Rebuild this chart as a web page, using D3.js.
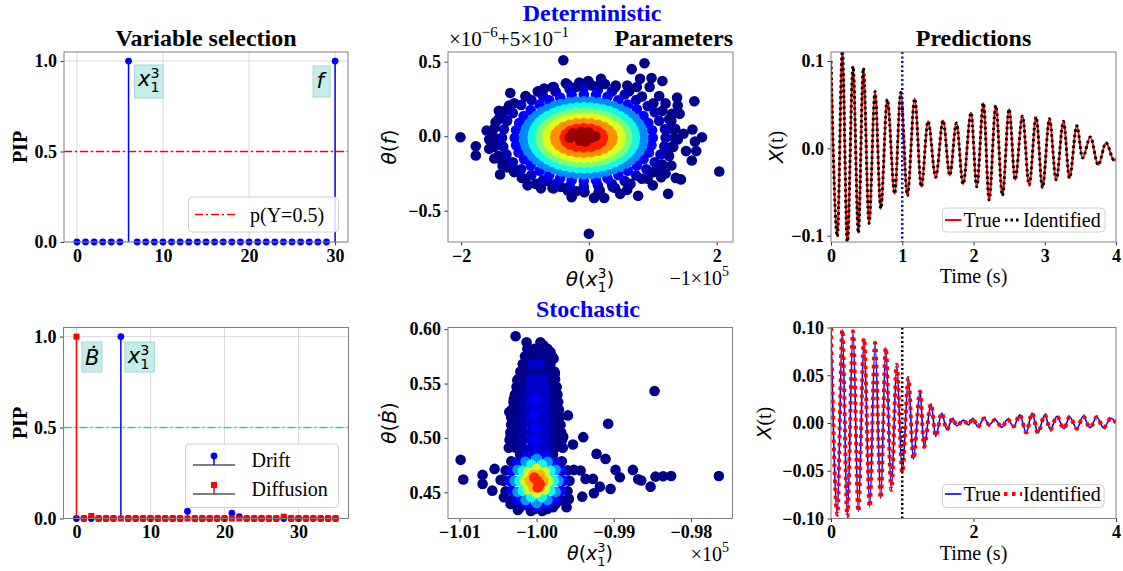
<!DOCTYPE html>
<html>
  <head>
    <meta charset="utf-8">
    <title>Variable selection, parameters and predictions</title>
    <script src="https://cdnjs.cloudflare.com/ajax/libs/d3/7.8.5/d3.min.js"></script>
    <style>
      body { margin: 0; background: #fff; }
    </style>
  </head>
  <body>
    <svg id="chart" width="1123" height="571"></svg>
    <script>
      // ---------- data ----------
      // PIP of each library term (index = term number)
      const detTermPIP = [0,0,0,0,0,0,1,0,0,0, 0,0,0,0,0,0,0,0,0,0, 0,0,0,0,0,0,0,0,0,0, 1];
      const driftPIP = [0,0,0,0,0,0,1,0,0,0, 0,0,0,0,0,0.04,0,0,0,0, 0,0.03,0.01,0,0,0,0,0,0,0, 0,0,0,0,0,0];
      const diffusionPIP = [1,0,0.014,0,0,0,0,0,0,0, 0,0,0,0,0,0,0,0,0,0, 0,0,0,0,0,0,0,0,0.01,0, 0,0,0,0,0,0];
      const pipThreshold = 0.5;

      // posterior samples, deterministic case: [theta(x1^3), theta(f)], grouped by density band
      const detBand0 = [[-0.40,0.51],[0.87,0.49],[0.67,0.45],[0.80,0.385],[0.98,0.39],[1.15,0.37],[0.95,0.33],[0.19,0.385],
        [-0.01,0.37],[-0.15,0.36],[-0.36,0.355],[0.42,0.34],[-0.70,0.32],[-0.80,0.30],[-0.99,0.27],[-1.23,0.29],
        [-1.41,0.17],[-1.25,0.205],[-1.46,0.094],[-1.60,0.038],[-1.56,-0.022],[-2.01,-0.007],[-1.77,-0.067],[-1.77,-0.13],
        [-1.56,-0.085],[-1.48,-0.15],[-1.26,-0.175],[-1.27,-0.21],[-1.39,-0.257],[-1.12,-0.23],[-0.96,-0.33],[-0.83,-0.32],
        [-0.65,-0.30],[-0.44,-0.34],[-0.27,-0.41],[-0.07,-0.376],[0.08,-0.414],[0.24,-0.414],[0.37,-0.34],[0.49,-0.387],
        [0.65,-0.32],[0.77,-0.40],[0.92,-0.286],[1.13,-0.275],[1.24,-0.387],[1.44,-0.29],[1.36,-0.28],[2.04,-0.237],
        [0.0,-0.655],[1.62,0.045],[1.77,-0.007],[1.66,-0.036],[1.68,-0.10],[1.61,-0.163],[1.52,-0.10],[1.48,0.016],
        [1.39,-0.022],[1.39,0.206],[1.42,0.15],[1.65,0.235],[1.38,0.26],[1.29,0.105],[1.26,0.05],[1.23,-0.12],
        [1.13,-0.22],[1.29,-0.197],[-0.55,0.33],[0.25,0.35],[0.6,0.34],[0.75,0.33],[-0.2,0.33],[0.05,0.34],
        [-0.55,-0.35],[-0.2,-0.37],[0.15,-0.38],[0.6,-0.36],[1.0,-0.33],[-0.75,-0.35],[-1.05,-0.28],[-1.45,-0.05],
        [-1.5,0.0],[-1.35,0.12],[-1.4,-0.15],[-1.35,-0.2],[1.35,0.05],[1.3,-0.07],[1.3,0.15],[1.2,0.22],[1.1,0.27],[1.2,-0.25],
        [1.34,-0.01],[1.32,0.053],[1.255,0.113],[1.15,0.17],[1.01,0.221],[0.83,0.266],[0.63,0.302],[0.41,0.328],
        [0.17,0.345],[-0.08,0.35],[-0.33,0.345],[-0.57,0.328],[-0.79,0.302],[-0.99,0.266],[-1.17,0.221],[-1.31,0.17],
        [-1.415,0.113],[-1.48,0.053],[-1.50,-0.01],[-1.48,-0.073],[-1.415,-0.133],[-1.31,-0.19],[-1.17,-0.241],[-0.99,-0.286],
        [-0.79,-0.322],[-0.57,-0.348],[-0.33,-0.365],[-0.08,-0.37],[0.17,-0.365],[0.41,-0.348],[0.63,-0.322],[0.83,-0.286],
        [1.01,-0.241],[1.15,-0.19],[1.255,-0.133],[1.32,-0.073]];
      const detBand1 = [[1.20,-0.01],[1.19,0.047],[1.10,0.103],[1.03,0.16],[0.92,0.202],[0.74,0.243],[0.56,0.28],[0.36,0.300],
        [0.14,0.31],[-0.08,0.325],[-0.30,0.315],[-0.52,0.300],[-0.72,0.27],[-0.90,0.243],[-1.06,0.21],[-1.19,0.155],
        [-1.28,0.103],[-1.33,0.047],[-1.36,-0.01],[-1.34,-0.07],[-1.29,-0.123],[-1.19,-0.175],[-1.06,-0.222],[-0.90,-0.26],
        [-0.72,-0.296],[-0.52,-0.32],[-0.30,-0.335],[-0.08,-0.34],[0.14,-0.33],[0.36,-0.320],[0.56,-0.30],[0.74,-0.263],
        [0.90,-0.222],[1.03,-0.175],[1.12,-0.123],[1.18,-0.067]];
      const detBand2 = [[1.00,-0.01],[0.99,0.040],[0.93,0.089],[0.855,0.135],[0.75,0.18],[0.61,0.212],[0.46,0.241],[0.29,0.265],
        [0.11,0.276],[-0.08,0.28],[-0.27,0.276],[-0.45,0.26],[-0.62,0.241],[-0.77,0.212],[-0.91,0.176],[-1.02,0.135],
        [-1.09,0.089],[-1.14,0.040],[-1.16,-0.01],[-1.14,-0.060],[-1.10,-0.109],[-1.015,-0.155],[-0.91,-0.196],[-0.77,-0.232],
        [-0.62,-0.261],[-0.45,-0.283],[-0.27,-0.296],[-0.08,-0.30],[0.11,-0.296],[0.29,-0.283],[0.46,-0.261],[0.61,-0.232],
        [0.75,-0.196],[0.855,-0.155],[0.94,-0.109],[0.98,-0.060]];
      const detBand3 = [[0.85,-0.01],[0.82,0.053],[0.725,0.113],[0.58,0.163],[0.385,0.202],[0.16,0.227],[-0.08,0.235],
        [-0.32,0.227],[-0.545,0.202],[-0.74,0.163],[-0.885,0.113],[-0.98,0.053],[-1.01,-0.01],[-0.98,-0.073],[-0.885,-0.133],
        [-0.74,-0.183],[-0.545,-0.222],[-0.32,-0.247],[-0.08,-0.255],[0.16,-0.247],[0.385,-0.222],[0.58,-0.183],[0.725,-0.133],[0.82,-0.073],
        [0.842,0.022],[0.779,0.084],[0.657,0.139],[0.486,0.184],[0.276,0.216],[0.042,0.233],[-0.202,0.233],[-0.436,0.216],
        [-0.646,0.184],[-0.817,0.139],[-0.939,0.084],[-1.002,0.022],[-1.002,-0.042],[-0.939,-0.104],[-0.817,-0.159],
        [-0.646,-0.204],[-0.436,-0.236],[-0.202,-0.253],[0.042,-0.253],[0.276,-0.236],[0.486,-0.204],[0.657,-0.159],
        [0.779,-0.104],[0.842,-0.042]];
      const detBand4 = [[0.72,-0.01],[0.693,0.043],[0.613,0.093],[0.486,0.135],[0.32,0.168],[0.127,0.188],[-0.08,0.195],
        [-0.287,0.188],[-0.48,0.168],[-0.646,0.135],[-0.773,0.093],[-0.853,0.043],[-0.88,-0.01],[-0.853,-0.063],[-0.773,-0.113],
        [-0.646,-0.155],[-0.48,-0.188],[-0.287,-0.208],[-0.08,-0.215],[0.127,-0.208],[0.32,-0.188],[0.486,-0.155],[0.613,-0.113],[0.693,-0.063],
        [0.713,0.017],[0.659,0.069],[0.554,0.115],[0.407,0.153],[0.226,0.179],[0.025,0.193],[-0.185,0.193],[-0.386,0.179],
        [-0.567,0.153],[-0.714,0.115],[-0.819,0.069],[-0.873,0.017],[-0.873,-0.037],[-0.819,-0.089],[-0.714,-0.135],
        [-0.567,-0.173],[-0.386,-0.199],[-0.185,-0.213],[0.025,-0.213],[0.226,-0.199],[0.407,-0.173],[0.554,-0.135],
        [0.659,-0.089],[0.713,-0.037]];
      const detBand5 = [[0.60,-0.01],[0.56,0.048],[0.44,0.099],[0.26,0.137],[0.038,0.157],[-0.198,0.157],[-0.42,0.137],
        [-0.60,0.099],[-0.72,0.048],[-0.76,-0.01],[-0.72,-0.068],[-0.60,-0.119],[-0.42,-0.157],[-0.198,-0.177],[0.038,-0.177],
        [0.26,-0.157],[0.44,-0.119],[0.56,-0.068],[0.59,0.02],[0.509,0.075],[0.357,0.12],[0.153,0.15],[-0.08,0.16],
        [-0.313,0.15],[-0.517,0.12],[-0.669,0.075],[-0.75,0.02],[-0.75,-0.04],[-0.669,-0.095],[-0.517,-0.14],[-0.313,-0.17],
        [-0.08,-0.18],[0.153,-0.17],[0.357,-0.14],[0.509,-0.095],[0.59,-0.04]];
      const detBand6 = [[0.49,-0.01],[0.456,0.036],[0.357,0.077],[0.205,0.107],[0.019,0.123],[-0.179,0.123],[-0.365,0.107],
        [-0.517,0.077],[-0.616,0.036],[-0.65,-0.01],[-0.616,-0.056],[-0.517,-0.097],[-0.365,-0.127],[-0.179,-0.143],
        [0.019,-0.143],[0.205,-0.127],[0.357,-0.097],[0.456,-0.056],[0.481,0.013],[0.414,0.058],[0.287,0.093],[0.115,0.117],
        [-0.08,0.125],[-0.275,0.117],[-0.447,0.093],[-0.574,0.058],[-0.641,0.013],[-0.641,-0.033],[-0.574,-0.078],
        [-0.447,-0.113],[-0.275,-0.137],[-0.08,-0.145],[0.115,-0.137],[0.287,-0.113],[0.414,-0.078],[0.481,-0.033]];
      const detBand7 = [[0.37,-0.01],[0.31,0.04],[0.145,0.077],[-0.08,0.09],[-0.305,0.077],[-0.47,0.04],[-0.53,-0.01],
        [-0.47,-0.06],[-0.305,-0.097],[-0.08,-0.11],[0.145,-0.097],[0.31,-0.06],[0.355,0.016],[0.238,0.061],[0.037,0.087],
        [-0.197,0.087],[-0.398,0.061],[-0.515,0.016],[-0.515,-0.036],[-0.398,-0.081],[-0.197,-0.107],[0.037,-0.107],
        [0.238,-0.081],[0.355,-0.036]];
      const detBand8 = [[0.22,-0.01],[0.132,0.036],[-0.08,0.055],[-0.292,0.036],[-0.38,-0.01],[-0.292,-0.056],[-0.08,-0.075],
        [0.132,-0.056],[0.197,0.015],[0.035,0.05],[-0.195,0.05],[-0.357,0.015],[-0.357,-0.035],[-0.195,-0.07],[0.035,-0.07],[0.197,-0.035]];
      const detBand9 = [[-0.2,0.0],[-0.08,0.01],[0.04,-0.01],[-0.14,-0.03],[0.0,0.025],[-0.25,0.02],[-0.05,-0.035],
        [-0.12,0.03],[-0.3,-0.01],[0.1,0.0]];
      const detBandDensity = [0.01, 0.05, 0.12, 0.26, 0.37, 0.5, 0.62, 0.76, 0.88, 0.98];

      // posterior samples, stochastic case: [theta(x1^3) (x1e5), theta(Bdot)]
      const stoBand0 = [[-1.00272,0.5935],[-1.0013,0.588],[-0.9995,0.588],[-0.9991,0.585],[-0.9982,0.579],[-0.9978,0.573],
        [-1.001,0.580],[-0.98471,0.5431],[-0.99072,0.513],[-1.00984,0.4798],[-1.0095,0.4617],[-1.0070,0.466],[-1.0070,0.4577],
        [-1.00544,0.4715],[-1.00574,0.4515],[-1.00466,0.4614],[-1.00423,0.4454],[-1.00337,0.4392],[-1.00242,0.4337],
        [-1.00026,0.4346],[-0.99862,0.4346],[-0.99754,0.4392],[-0.99611,0.4362],[-0.99581,0.4439],[-0.99408,0.446],
        [-0.99257,0.4491],[-0.9918,0.4552],[-0.99041,0.4531],[-0.9943,0.47],[-0.99516,0.4706],[-0.99365,0.4623],
        [-0.9927,0.4623],[-0.99223,0.4853],[-0.99106,0.4807],[-0.99395,0.5007],[-0.99529,0.494],[-0.99655,0.501],
        [-0.98977,0.4706],[-0.98921,0.4638],[-0.98752,0.4706],[-0.98683,0.462],[-0.98644,0.4608],[-0.98523,0.4552],
        [-0.98459,0.4644],[-0.9836,0.4647],[-0.98256,0.465],[-0.97638,0.465],[-0.99594,0.5207],[-0.99763,0.5591],
        [-0.9974,0.5468],[-0.99784,0.536],[-1.00337,0.5007],[-1.00354,0.5238],[-1.0025,0.553],[-1.00294,0.536],
        [-1.0012,0.582],[-1.0003,0.582],[-0.9994,0.582],[-0.9986,0.582],
        [-1.0015,0.575],[-1.0006,0.575],[-0.9997,0.575],[-0.9988,0.575],[-0.9980,0.575],
        [-1.0018,0.568],[-1.0009,0.568],[-1.0000,0.568],[-0.9991,0.568],[-0.9982,0.568],
        [-1.0021,0.561],[-1.0012,0.561],[-1.0003,0.561],[-0.9994,0.561],[-0.9985,0.561],[-0.9977,0.561],
        [-1.0024,0.554],[-1.0015,0.554],[-0.9985,0.554],[-0.9976,0.554],
        [-1.0026,0.547],[-1.0017,0.547],[-0.9984,0.547],[-0.9975,0.547],
        [-1.0028,0.540],[-1.0019,0.540],[-0.9982,0.540],[-0.9973,0.540],
        [-1.0030,0.533],[-1.0021,0.533],[-0.9981,0.533],[-0.9972,0.533],
        [-1.0032,0.526],[-1.0023,0.526],[-0.9980,0.526],[-0.9971,0.526],
        [-1.0033,0.519],[-1.0024,0.519],[-0.9979,0.519],[-0.9970,0.519],
        [-1.0033,0.512],[-1.0024,0.512],[-0.9978,0.512],[-0.9969,0.512],
        [-1.0034,0.505],[-1.0025,0.505],[-0.9977,0.505],[-0.9968,0.505],
        [-1.0035,0.498],[-1.0026,0.498],[-0.9976,0.498],[-0.9967,0.498],
        [-1.0036,0.491],[-1.0027,0.491],[-0.9976,0.491],[-0.9966,0.491],
        [-0.99573,0.4605],[-0.99599,0.4701],[-0.99673,0.4785],[-0.99787,0.4847],[-0.99926,0.4881],[-1.00074,0.4881],
        [-1.00214,0.4847],[-1.00327,0.4785],[-1.00401,0.4701],[-1.00427,0.4605],[-1.00401,0.4509],[-1.00327,0.4425],
        [-1.00214,0.4363],[-1.00074,0.4329],[-0.99926,0.4329],[-0.99787,0.4363],[-0.99673,0.4425],[-0.99599,0.4509]];
      const stoBand1 = [[-1.0015,0.540],[-0.9989,0.540],[-1.0016,0.533],[-0.9988,0.533],[-1.0016,0.526],[-0.9987,0.526],
        [-1.0017,0.519],[-0.9987,0.519],[-1.0017,0.512],[-0.9986,0.512],[-1.0017,0.505],[-0.9986,0.505],[-1.0018,0.498],
        [-0.9985,0.498],[-1.0018,0.491],[-0.9985,0.491]];
      const stoBand2 = [[-1.0005,0.568],[-0.9996,0.568],[-1.0007,0.554],[-0.9998,0.554],[-0.9990,0.554],[-1.0007,0.547],
        [-0.9998,0.547],[-0.9990,0.547],[-1.0007,0.540],[-0.9998,0.540],[-0.9990,0.540],[-1.0007,0.533],[-0.9998,0.533],
        [-0.9990,0.533],[-1.0007,0.526],[-0.9998,0.526],[-0.9990,0.526],[-1.0007,0.519],[-0.9998,0.519],[-0.9990,0.519],
        [-1.0007,0.512],[-0.9998,0.512],[-0.9990,0.512],[-1.0007,0.505],[-0.9998,0.505],[-0.9990,0.505],[-1.0007,0.498],
        [-0.9998,0.498],[-0.9990,0.498],[-1.0007,0.491],[-0.9998,0.491],[-0.9990,0.491]];
      const stoBand3 = [[-1.0002,0.535],[-1.0003,0.522],[-1.0001,0.509],[-1.0002,0.497],
        [-0.9965,0.4605],[-0.99677,0.4697],[-0.99753,0.4775],[-0.99866,0.4827],[-1.0,0.4845],[-1.00134,0.4827],[-1.00247,0.4775],
        [-1.00323,0.4697],[-1.0035,0.4605],[-1.00323,0.4513],[-1.00247,0.4435],[-1.00134,0.4383],[-1.0,0.4365],[-0.99866,0.4383],
        [-0.99753,0.4435],[-0.99677,0.4513]];
      const stoBand4 = [[-0.99715,0.4605],[-0.99753,0.4707],[-0.99858,0.4781],[-1.0,0.4808],[-1.00143,0.4781],[-1.00247,0.4707],
        [-1.00285,0.4605],[-1.00247,0.4504],[-1.00143,0.4429],[-1.0,0.4402],[-0.99858,0.4429],[-0.99753,0.4504]];
      const stoBand5 = [[-0.9978,0.4605],[-0.99822,0.4697],[-0.99932,0.4754],[-1.00068,0.4754],[-1.00178,0.4697],[-1.0022,0.4605],
        [-1.00178,0.4513],[-1.00068,0.4456],[-0.99932,0.4456],[-0.99822,0.4513]];
      const stoBand6 = [[-0.99845,0.4605],[-0.9989,0.4683],[-1.0,0.4716],[-1.0011,0.4683],[-1.00155,0.4605],[-1.0011,0.4527],
        [-1.0,0.4494],[-0.9989,0.4527]];
      const stoBand7 = [[-0.9991,0.4605],[-0.99955,0.4661],[-1.00045,0.4661],[-1.0009,0.4605],[-1.00045,0.4549],[-0.99955,0.4549]];
      const stoBand8 = [[-1.0003,0.4635],[-0.9996,0.4575],[-0.9999,0.4605],[-0.99985,0.4545]];
      const stoBandDensity = [0.01, 0.035, 0.065, 0.12, 0.27, 0.37, 0.6, 0.72, 0.87];

      // predictions: turning points [time (s), X(t)]
      const detResponse = [[0,0.100],[0.089,-0.101],[0.159,0.112],[0.229,-0.110],[0.309,0.094],[0.384,-0.097],[0.454,0.092],
        [0.534,-0.086],[0.618,0.065],[0.698,-0.069],[0.79,0.056],[0.894,-0.052],[0.979,0.064],[1.072,-0.054],[1.175,0.057],
        [1.268,-0.044],[1.362,0.031],[1.47,-0.033],[1.573,0.032],[1.667,-0.031],[1.76,0.029],[1.854,-0.041],[1.965,0.041],
        [2.046,-0.044],[2.139,0.052],[2.219,-0.059],[2.313,0.049],[2.406,-0.054],[2.5,0.045],[2.584,-0.036],[2.687,0.037],
        [2.781,-0.042],[2.879,0.036],[2.968,-0.045],[3.066,0.034],[3.16,-0.036],[3.263,0.031],[3.347,-0.034],[3.45,0.026],
        [3.53,-0.011],[3.64,0.013],[3.75,-0.019],[3.86,0.0064],[3.975,-0.014],[4.0,-0.012]];
      const stoResponse = [[0,0.100],[0.089,-0.096],[0.159,0.098],[0.229,-0.098],[0.309,0.096],[0.384,-0.093],[0.463,0.089],
        [0.543,-0.088],[0.618,0.084],[0.698,-0.079],[0.768,0.079],[0.847,-0.070],[0.923,0.061],[1.0,-0.052],[1.086,0.047],
        [1.156,-0.038],[1.25,0.033],[1.306,-0.025],[1.404,0.020],[1.47,-0.014],[1.554,0.0105],[1.625,-0.007],[1.709,0.005],
        [1.765,-0.003],[1.859,0.003],[1.929,-0.002],[1.99,0.005],[2.06,-0.004],[2.15,0.005],[2.22,-0.002],[2.30,0.0035],
        [2.40,-0.0046],[2.476,0.004],[2.565,-0.0036],[2.65,0.0087],[2.74,-0.010],[2.823,0.0105],[2.905,-0.0105],[3.0,0.0087],
        [3.08,-0.007],[3.17,0.007],[3.27,-0.006],[3.35,0.0066],[3.45,-0.006],[3.54,0.007],[3.635,-0.005],[3.73,0.0063],
        [3.825,-0.005],[3.93,0.005],[4.0,0.0]];
      const trainEnd = 1;

      // ---------- setup ----------
      const serif = "'Liberation Serif', 'Times New Roman', serif";
      const sans = "'DejaVu Sans', sans-serif";
      const svg = d3.select("#chart");
      svg.append("rect").attr("width", 1123).attr("height", 571).attr("fill", "#fff");
      let clipCount = 0;

      // jet colormap
      const jetR = d3.scaleLinear().domain([0, 0.35, 0.66, 0.89, 1]).range([0, 0, 1, 1, 0.5]).clamp(true);
      const jetG = d3.scaleLinear().domain([0, 0.125, 0.375, 0.64, 0.91, 1]).range([0, 0, 1, 1, 0, 0]).clamp(true);
      const jetB = d3.scaleLinear().domain([0, 0.11, 0.34, 0.65, 1]).range([0.5, 1, 1, 0, 0]).clamp(true);
      function jet(v) { return d3.rgb(255 * jetR(v), 255 * jetG(v), 255 * jetB(v)).toString(); }

      function makeAxes(box, xDomain, yDomain) {
        const x = d3.scaleLinear().domain(xDomain).range([box.x0, box.x1]);
        const y = d3.scaleLinear().domain(yDomain).range([box.y1, box.y0]);
        const id = "clip" + (clipCount++);
        svg.append("clipPath").attr("id", id).append("rect")
          .attr("x", box.x0).attr("y", box.y0).attr("width", box.x1 - box.x0).attr("height", box.y1 - box.y0);
        const g = svg.append("g");
        return { x, y, g, box, clip: "url(#" + id + ")" };
      }

      function grid(ax, xt, yt) {
        ax.g.selectAll(null).data(xt).join("line")
          .attr("x1", d => ax.x(d)).attr("x2", d => ax.x(d)).attr("y1", ax.box.y0).attr("y2", ax.box.y1)
          .attr("stroke", "#d6d6d6").attr("stroke-width", 0.9);
        ax.g.selectAll(null).data(yt).join("line")
          .attr("y1", d => ax.y(d)).attr("y2", d => ax.y(d)).attr("x1", ax.box.x0).attr("x2", ax.box.x1)
          .attr("stroke", "#d6d6d6").attr("stroke-width", 0.9);
      }

      function frame(ax, xt, xf, yt, yf) {
        const b = ax.box;
        const xa = svg.append("g").attr("transform", `translate(0,${b.y1})`)
          .call(d3.axisBottom(ax.x).tickValues(xt).tickFormat(d3.format(xf)).tickSize(3.5).tickPadding(3.5));
        const ya = svg.append("g").attr("transform", `translate(${b.x0},0)`)
          .call(d3.axisLeft(ax.y).tickValues(yt).tickFormat(d3.format(yf)).tickSize(3.5).tickPadding(3.5));
        [xa, ya].forEach(a => {
          a.select(".domain").remove();
          a.selectAll(".tick line").attr("stroke", "#000").attr("stroke-width", 0.8);
          a.selectAll(".tick text").attr("font-family", serif).attr("font-weight", "bold")
            .attr("font-size", 18).attr("fill", "#000");
        });
        svg.append("rect").attr("x", b.x0).attr("y", b.y0).attr("width", b.x1 - b.x0).attr("height", b.y1 - b.y0)
          .attr("fill", "none").attr("stroke", "#808080").attr("stroke-width", 1);
      }

      function label(x, y, size, opts) {
        const t = svg.append("text").attr("x", x).attr("y", y).attr("font-size", size)
          .attr("font-family", serif).attr("text-anchor", opts.anchor || "middle");
        if (opts.bold) t.attr("font-weight", "bold");
        if (opts.fill) t.attr("fill", opts.fill);
        if (opts.rotate) t.attr("transform", `rotate(-90,${x},${y})`);
        return t;
      }
      function span(t, txt, o) {
        const s = t.append("tspan").text(txt);
        if (o) {
          if (o.math) s.attr("font-family", sans);
          if (o.it) s.attr("font-style", "italic");
          if (o.size) s.attr("font-size", o.size);
          if (o.dx) s.attr("dx", o.dx);
          if (o.dy) s.attr("dy", o.dy);
        }
        return s;
      }
      // x_1^3 written math style
      function x13(t, size) {
        span(t, "x", { math: 1, it: 1 });
        span(t, "1", { math: 1, size: size * 0.68, dy: size * 0.3 });
        span(t, "3", { math: 1, size: size * 0.68, dx: -size * 0.68 * 0.636, dy: -size * 0.7 });
      }

      function stems(ax, values, color, shape, r) {
        const pts = values.map((v, i) => [i, v]);
        ax.g.selectAll(null).data(pts.filter(d => d[1] > 0)).join("line")
          .attr("x1", d => ax.x(d[0])).attr("x2", d => ax.x(d[0]))
          .attr("y1", ax.y(0)).attr("y2", d => ax.y(d[1]))
          .attr("stroke", color).attr("stroke-width", 1.5);
        if (shape === "circle") {
          ax.g.selectAll(null).data(pts).join("circle")
            .attr("cx", d => ax.x(d[0])).attr("cy", d => ax.y(d[1])).attr("r", r).attr("fill", color);
        } else {
          ax.g.selectAll(null).data(pts).join("rect")
            .attr("x", d => ax.x(d[0]) - r).attr("y", d => ax.y(d[1]) - r)
            .attr("width", 2 * r).attr("height", 2 * r).attr("fill", color);
        }
      }

      function hline(ax, v, color) {
        ax.g.append("line").attr("x1", ax.box.x0).attr("x2", ax.box.x1).attr("y1", ax.y(v)).attr("y2", ax.y(v))
          .attr("stroke", color).attr("stroke-width", 1.4).attr("stroke-dasharray", "8 3 2 3");
      }

      function tag(x, y, w, h) {
        svg.append("rect").attr("x", x).attr("y", y).attr("width", w).attr("height", h)
          .attr("fill", "#c4ece9").attr("stroke", "#a6d8d5").attr("stroke-width", 1);
      }

      function legendBox(x, y, w, h) {
        svg.append("rect").attr("x", x).attr("y", y).attr("width", w).attr("height", h).attr("rx", 4)
          .attr("fill", "rgba(255,255,255,0.85)").attr("stroke", "#d0d0d0").attr("stroke-width", 1);
      }

      function scatter(ax, bands, density) {
        const cg = ax.g.append("g").attr("clip-path", ax.clip);
        bands.forEach((pts, k) => {
          cg.selectAll(null).data(pts).join("circle")
            .attr("cx", d => ax.x(d[0])).attr("cy", d => ax.y(d[1])).attr("r", 5.3)
            .attr("fill", jet(density[k]));
        });
      }

      const line = (ax) => d3.line().x(d => ax.x(d[0])).y(d => ax.y(d[1])).curve(d3.curveMonotoneX);

      // ---------- panel 1: variable selection (deterministic) ----------
      const p1 = makeAxes({ x0: 64, x1: 348, y0: 52, y1: 242 }, [-1.5, 31.5], [0, 1.05]);
      grid(p1, [0, 10, 20, 30], [0, 0.5, 1]);
      hline(p1, pipThreshold, "#ff0000");
      stems(p1, detTermPIP, "#0000ff", "circle", 3.4);
      frame(p1, [0, 10, 20, 30], "d", [0, 0.5, 1], ".1f");
      label(206, 46, 24, { bold: 1 }).text("Variable selection");
      label(27, 147, 20, { bold: 1, rotate: 1 }).text("PIP");
      tag(p1.x(6) + 6, 65, 28.5, 33);
      x13(label(p1.x(6) + 9.5, 86, 21, { anchor: "start" }), 21);
      tag(p1.x(30) - 22, 66, 17, 31);
      span(label(p1.x(30) - 18.5, 88, 21, { anchor: "start" }), "f", { math: 1, it: 1 });
      legendBox(188.5, 197, 150, 35);
      svg.append("line").attr("x1", 195).attr("x2", 235).attr("y1", 214.5).attr("y2", 214.5)
        .attr("stroke", "#ff0000").attr("stroke-width", 1.4).attr("stroke-dasharray", "8 3 2 3");
      label(250, 221.5, 20, { anchor: "start" }).text("p(Y=0.5)");

      // ---------- panel 2: deterministic parameters ----------
      const p2 = makeAxes({ x0: 448, x1: 733, y0: 52, y1: 242 }, [-2.205, 2.255], [-0.71, 0.565]);
      scatter(p2, [detBand0, detBand1, detBand2, detBand3, detBand4, detBand5, detBand6, detBand7, detBand8, detBand9], detBandDensity);
      frame(p2, [-2, 0, 2], "d", [-0.5, 0, 0.5], ".1f");
      label(592, 21, 24, { bold: 1, fill: "#0000ff" }).text("Deterministic");
      label(733, 46, 24, { bold: 1, anchor: "end" }).text("Parameters");
      const off1 = label(449, 46, 21, { anchor: "start" });
      span(off1, "×10"); span(off1, "−6", { size: 15, dy: -9 }); span(off1, "+5×10", { dy: 9 }); span(off1, "−1", { size: 15, dy: -9 });
      const off2 = label(729, 285, 20, { anchor: "end" });
      span(off2, "−1×10"); span(off2, "5", { size: 14, dy: -9 });
      const xl2 = label(590, 286, 20, {});
      span(xl2, "θ", { math: 1, it: 1 }); span(xl2, "(", { math: 1 }); x13(xl2, 20); span(xl2, ")", { math: 1, dy: 8 });
      const yl2 = label(396, 147, 20, { rotate: 1 });
      span(yl2, "θ", { math: 1, it: 1 }); span(yl2, "(", { math: 1 }); span(yl2, "f", { math: 1, it: 1 }); span(yl2, ")", { math: 1 });

      // ---------- panel 3: deterministic predictions ----------
      const p3 = makeAxes({ x0: 831, x1: 1116, y0: 52, y1: 242 }, [0, 4], [-0.1072, 0.1103]);
      const c3 = p3.g.append("g").attr("clip-path", p3.clip);
      c3.append("path").attr("d", line(p3)(detResponse)).attr("fill", "none").attr("stroke", "#ff0000").attr("stroke-width", 2);
      c3.append("path").attr("d", line(p3)(detResponse)).attr("fill", "none").attr("stroke", "#000")
        .attr("stroke-width", 3).attr("stroke-dasharray", "2.5 3");
      c3.append("line").attr("x1", p3.x(trainEnd)).attr("x2", p3.x(trainEnd)).attr("y1", p3.box.y0).attr("y2", p3.box.y1)
        .attr("stroke", "#0000ff").attr("stroke-width", 2.5).attr("stroke-dasharray", "2 2.5");
      frame(p3, [0, 1, 2, 3, 4], "d", [-0.1, 0, 0.1], ".1f");
      label(973.5, 46, 24, { bold: 1 }).text("Predictions");
      label(973.5, 283, 20, {}).text("Time (s)");
      const yl3 = label(783, 147, 20, { rotate: 1 });
      span(yl3, "X", { math: 1, it: 1 }); span(yl3, "(t)");
      legendBox(942.5, 208, 162.5, 24);
      svg.append("line").attr("x1", 945).attr("x2", 961.5).attr("y1", 220).attr("y2", 220).attr("stroke", "#ff0000").attr("stroke-width", 2);
      svg.append("line").attr("x1", 1005).attr("x2", 1021.5).attr("y1", 220).attr("y2", 220).attr("stroke", "#000")
        .attr("stroke-width", 3).attr("stroke-dasharray", "2.5 3");
      label(963.5, 226.5, 20, { anchor: "start" }).text("True");
      label(1023, 226.5, 20, { anchor: "start" }).text("Identified");

      // ---------- panel 4: variable selection (stochastic) ----------
      const p4 = makeAxes({ x0: 63.5, x1: 348.5, y0: 327.5, y1: 518.5 }, [-1.75, 36.75], [0, 1.05]);
      grid(p4, [0, 10, 20, 30], [0, 0.5, 1]);
      hline(p4, pipThreshold, "#33cccc");
      stems(p4, driftPIP, "#0000ff", "circle", 3.4);
      stems(p4, diffusionPIP, "#ff0000", "square", 3);
      frame(p4, [0, 10, 20, 30], "d", [0, 0.5, 1], ".1f");
      label(27, 423, 20, { bold: 1, rotate: 1 }).text("PIP");
      tag(p4.x(0) + 5.5, 342, 20, 30);
      span(label(p4.x(0) + 8.5, 365, 21, { anchor: "start" }), "\u1E02", { math: 1, it: 1 });
      tag(p4.x(6) + 4, 342, 29.5, 30);
      x13(label(p4.x(6) + 7, 363, 21, { anchor: "start" }), 21);
      legendBox(185.5, 444, 153, 63.5);
      svg.append("line").attr("x1", 193).attr("x2", 235).attr("y1", 465).attr("y2", 465).attr("stroke", "#000").attr("stroke-width", 1.2);
      svg.append("line").attr("x1", 214).attr("x2", 214).attr("y1", 465).attr("y2", 456).attr("stroke", "#0000ff").attr("stroke-width", 1.5);
      svg.append("circle").attr("cx", 214).attr("cy", 456).attr("r", 3.4).attr("fill", "#0000ff");
      svg.append("line").attr("x1", 193).attr("x2", 235).attr("y1", 494).attr("y2", 494).attr("stroke", "#000").attr("stroke-width", 1.2);
      svg.append("line").attr("x1", 214).attr("x2", 214).attr("y1", 494).attr("y2", 485).attr("stroke", "#ff0000").attr("stroke-width", 1.5);
      svg.append("rect").attr("x", 211).attr("y", 482).attr("width", 6).attr("height", 6).attr("fill", "#ff0000");
      label(251.5, 467, 20, { anchor: "start" }).text("Drift");
      label(251.5, 496, 20, { anchor: "start" }).text("Diffusion");

      // ---------- panel 5: stochastic parameters ----------
      const p5 = makeAxes({ x0: 448, x1: 732.5, y0: 327.5, y1: 518.5 }, [-1.01148, -0.97461], [0.4259, 0.6015]);
      scatter(p5, [stoBand0, stoBand1, stoBand2, stoBand3, stoBand4, stoBand5, stoBand6, stoBand7, stoBand8], stoBandDensity);
      frame(p5, [-1.01, -1.0, -0.99, -0.98], ".2f", [0.45, 0.5, 0.55, 0.6], ".2f");
      label(588, 317, 24, { bold: 1, fill: "#0000ff" }).text("Stochastic");
      const off5 = label(729, 561, 20, { anchor: "end" });
      span(off5, "×10"); span(off5, "5", { size: 14, dy: -9 });
      const xl5 = label(590, 560, 19, {});
      span(xl5, "θ", { math: 1, it: 1 }); span(xl5, "(", { math: 1 }); x13(xl5, 19); span(xl5, ")", { math: 1, dy: 7.6 });
      const yl5 = label(396, 423, 20, { rotate: 1 });
      span(yl5, "θ", { math: 1, it: 1 }); span(yl5, "(", { math: 1 }); span(yl5, "\u1E02", { math: 1, it: 1 }); span(yl5, ")", { math: 1 });

      // ---------- panel 6: stochastic predictions ----------
      const p6 = makeAxes({ x0: 831, x1: 1116, y0: 327.5, y1: 518.5 }, [0, 4], [-0.1, 0.1]);
      const c6 = p6.g.append("g").attr("clip-path", p6.clip);
      c6.append("path").attr("d", line(p6)(stoResponse)).attr("fill", "none").attr("stroke", "#0000ff").attr("stroke-width", 1.6);
      c6.append("path").attr("d", line(p6)(stoResponse)).attr("fill", "none").attr("stroke", "#ff0000")
        .attr("stroke-width", 4).attr("stroke-dasharray", "3.5 4.5");
      c6.append("line").attr("x1", p6.x(trainEnd)).attr("x2", p6.x(trainEnd)).attr("y1", p6.box.y0).attr("y2", p6.box.y1)
        .attr("stroke", "#000").attr("stroke-width", 2.5).attr("stroke-dasharray", "2 2.5");
      frame(p6, [0, 2, 4], "d", [-0.1, -0.05, 0, 0.05, 0.1], ".2f");
      label(973.5, 560, 20, {}).text("Time (s)");
      const yl6 = label(771, 423, 20, { rotate: 1 });
      span(yl6, "X", { math: 1, it: 1 }); span(yl6, "(t)");
      legendBox(942.5, 484.5, 161.5, 23);
      svg.append("line").attr("x1", 945).attr("x2", 961.5).attr("y1", 494).attr("y2", 494).attr("stroke", "#0000ff").attr("stroke-width", 1.6);
      svg.append("line").attr("x1", 1004).attr("x2", 1022).attr("y1", 494).attr("y2", 494).attr("stroke", "#ff0000")
        .attr("stroke-width", 4).attr("stroke-dasharray", "3.5 4.5");
      label(963.5, 501, 20, { anchor: "start" }).text("True");
      label(1023, 501, 20, { anchor: "start" }).text("Identified");
    </script>
  </body>
</html>
